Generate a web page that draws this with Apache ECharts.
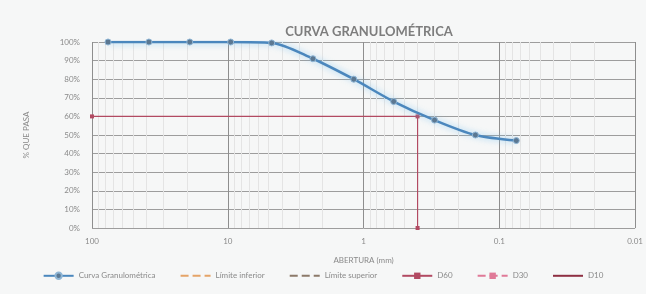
<!DOCTYPE html>
<html>
<head>
<meta charset="utf-8">
<script src="https://cdn.jsdelivr.net/npm/echarts@6/dist/echarts.min.js"></script>
<style>
  html, body { margin: 0; padding: 0; background: #f6f7f7; }
  #main { width: 646px; height: 294px; }
</style>
</head>
<body>
<div id="main"></div>
<script>
// tamices (mm) y % que pasa
var aberturas = [76.2, 38.1, 19.05, 9.525, 4.75, 2.36, 1.18, 0.6, 0.3, 0.15, 0.075];
var pasa = [100, 100, 100, 100, 99.5, 91, 80, 68, 58, 50, 47];
// linea D60
var d60X = [100, 0.4, 0.4];
var d60Y = [60, 60, 0];
var xTicks = [100, 10, 1, 0.1, 0.01];

var myChart = echarts.init(document.getElementById('main'));

var curva = aberturas.map(function (a, i) { return [a, pasa[i]]; });
var d60 = d60X.map(function (a, i) { return [a, d60Y[i]]; });

var txt = { color: '#8a8a8a', fontFamily: 'Lato', fontSize: 8 };

myChart.setOption({
  backgroundColor: '#f6f7f7',
  title: {
    text: 'CURVA GRANULOMÉTRICA',
    left: 364,
    top: 20,
    textAlign: 'center',
    textStyle: { color: '#7d7d7d', fontFamily: 'Lato', fontSize: 13, fontWeight: 'bold' }
  },
  grid: { left: 92, right: 10, top: 42, bottom: 66 },
  legend: {
    bottom: 9,
    left: 'center',
    itemGap: 24,
    itemWidth: 30,
    itemHeight: 8,
    textStyle: txt,
    data: [
      { name: 'Curva Granulométrica' },
      { name: 'Límite inferior', itemStyle: { opacity: 0 } },
      { name: 'Límite superior', itemStyle: { opacity: 0 } },
      { name: 'D60' },
      { name: 'D30' },
      { name: 'D10', itemStyle: { opacity: 0 } }
    ]
  },
  xAxis: {
    type: 'log',
    logBase: 10,
    min: 0.01,
    max: 100,
    inverse: true,
    name: 'ABERTURA (mm)',
    nameLocation: 'middle',
    nameGap: 28,
    nameTextStyle: txt,
    axisLine: { show: false },
    axisTick: { show: false },
    axisLabel: {
      color: '#8a8a8a', fontFamily: 'Lato', fontSize: 8, margin: 9,
      formatter: function (v) {
        for (var i = 0; i < xTicks.length; i++) {
          if (Math.abs(Math.log10(v) - Math.log10(xTicks[i])) < 1e-6) return String(xTicks[i]);
        }
        return '';
      }
    },
    splitLine: { show: true, lineStyle: { color: '#8e8e8e', width: 1 } },
    minorTick: { show: false, splitNumber: 9 },
    minorSplitLine: { show: true, lineStyle: { color: '#e4e4e4', width: 1 } }
  },
  yAxis: {
    type: 'value',
    min: 0,
    max: 100,
    interval: 10,
    name: '% QUE PASA',
    nameLocation: 'middle',
    nameGap: 62,
    nameRotate: 90,
    nameTextStyle: txt,
    axisLine: { show: false },
    axisTick: { show: false },
    axisLabel: { color: '#8a8a8a', fontFamily: 'Lato', fontSize: 8, margin: 12, formatter: '{value}%' },
    splitLine: { show: true, lineStyle: { color: '#9d9d9d', width: 1 } }
  },
  series: [
    {
      name: 'Curva Granulométrica',
      type: 'line',
      smooth: 0.3,
      data: curva,
      symbol: 'circle',
      symbolSize: 6,
      z: 5,
      lineStyle: {
        color: '#4b87bd', width: 2.5,
        shadowColor: 'rgba(110,190,240,0.7)', shadowBlur: 6
      },
      itemStyle: { color: '#5b7892', borderColor: '#8fb6d6', borderWidth: 1 }
    },
    {
      name: 'Límite inferior',
      type: 'line',
      data: [],
      symbol: 'none',
      itemStyle: { color: '#e5a468' },
      lineStyle: { color: '#e5a468', type: 'dashed', width: 1.5 }
    },
    {
      name: 'Límite superior',
      type: 'line',
      data: [],
      symbol: 'none',
      itemStyle: { color: '#8c7a6a' },
      lineStyle: { color: '#8c7a6a', type: 'dashed', width: 1.5 }
    },
    {
      name: 'D60',
      type: 'line',
      data: d60,
      symbol: 'rect',
      symbolSize: 4,
      z: 4,
      itemStyle: { color: '#b24a62' },
      lineStyle: { color: '#b24a62', width: 1.2 }
    },
    {
      name: 'D30',
      type: 'line',
      data: [],
      symbol: 'rect',
      symbolSize: 5,
      itemStyle: { color: '#e07a98' },
      lineStyle: { color: '#e07a98', type: 'dashed', width: 1 }
    },
    {
      name: 'D10',
      type: 'line',
      data: [],
      symbol: 'none',
      itemStyle: { color: '#8e2f42' },
      lineStyle: { color: '#8e2f42', width: 1.5 }
    }
  ]
});
</script>
</body>
</html>
